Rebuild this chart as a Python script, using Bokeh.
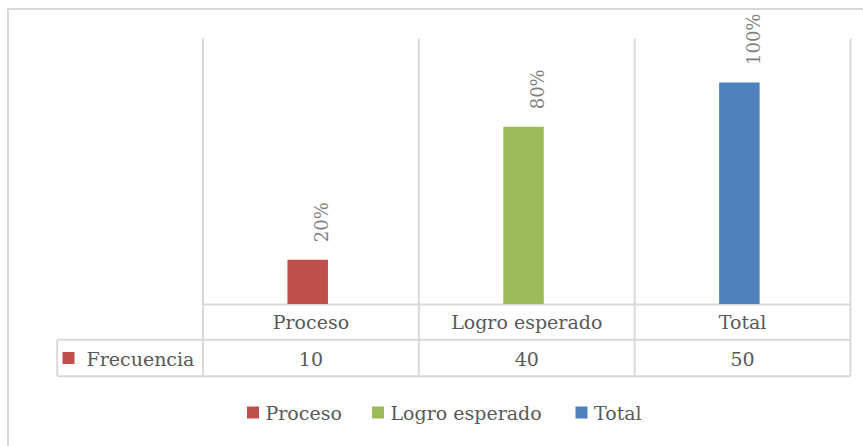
from bokeh.plotting import figure
from bokeh.models import Range1d, ColumnDataSource
from bokeh.core.properties import value
from bokeh.embed import file_html
from bokeh.resources import INLINE

# ---- data ----
categories = ["Proceso", "Logro esperado", "Total"]
frecuencia = [10, 40, 50]
percent_labels = ["20%", "80%", "100%"]
colors = ["#C0504D", "#9BBB59", "#4F81BD"]
series_name = "Frecuencia"
y_max = 60

# ---- layout (canvas pixels, y downward) ----
W, H = 863, 446
plot_left, plot_right = 202.5, 850.0
plot_top, base_y = 37.7, 303.5
row1_bottom, table_bottom = 339.3, 375.7
table_left = 56.7
border_x, border_y = 7.5, 8.5
grid_color = "#d9d9d9"
text_color = "#595959"
label_color = "#7f7f7f"
FONT = value("DejaVu Serif")
FS = "19px"

n = len(categories)
unit_x = (plot_right - plot_left) / n
unit_y = (base_y - plot_top) / y_max

p = figure(width=W, height=H,
           x_range=Range1d(-plot_left / unit_x, (W - plot_left) / unit_x),
           y_range=Range1d(-(H - base_y) / unit_y, base_y / unit_y),
           x_axis_location=None, y_axis_location=None,
           output_backend="svg", toolbar_location=None, min_border=0)
p.extra_x_ranges = {"px": Range1d(0, W)}
p.extra_y_ranges = {"px": Range1d(H, 0)}
p.grid.visible = False
p.outline_line_color = None
p.background_fill_color = "white"
p.border_fill_color = "white"

PX = dict(x_range_name="px", y_range_name="px")

# outer chart border (top and left)
p.segment(x0=[border_x - 1, border_x], y0=[border_y, border_y - 1], x1=[W, border_x], y1=[border_y, H],
          line_color=grid_color, line_width=2, **PX)

# vertical grid / table column lines
xs_bound = [plot_left + i * unit_x for i in range(n + 1)]
p.segment(x0=xs_bound, y0=[plot_top] * (n + 1), x1=xs_bound, y1=[table_bottom] * (n + 1),
          line_color=grid_color, line_width=2, **PX)
# horizontal table lines
p.segment(x0=[plot_left, table_left, table_left], y0=[base_y + 0.5, row1_bottom, table_bottom],
          x1=[plot_right] * 3, y1=[base_y + 0.5, row1_bottom, table_bottom],
          line_color=grid_color, line_width=2, **PX)
p.segment(x0=[table_left], y0=[row1_bottom], x1=[table_left], y1=[table_bottom],
          line_color=grid_color, line_width=2, **PX)

# bars
shift = -3.2 / unit_x
src = ColumnDataSource(dict(
    x=[i + 0.5 + shift for i in range(n)],
    top=frecuencia,
    color=colors,
    lab=percent_labels,
    cat=categories,
    val=[str(v) for v in frecuencia],
    cx=[i + 0.5 for i in range(n)],
))
p.vbar(x="x", top="top", bottom=0, width=40.5 / unit_x, fill_color="color",
       line_color=None, source=src)

# rotated data labels
p.text(x="x", y="top", text="lab", source=src, angle=1.5708,
       x_offset=14, y_offset=-17.5, text_align="left", text_baseline="middle",
       text_font=FONT, text_font_size="18px", text_color=label_color)

# table: category row and value row
row1_mid = (base_y + row1_bottom) / 2
row2_mid = (row1_bottom + table_bottom) / 2
p.text(x="cx", y=row1_mid + 0.5, text="cat", source=src,
       y_range_name="px", text_align="center", text_baseline="middle",
       text_font=FONT, text_font_size=FS, text_color=text_color)
p.text(x="cx", y=row2_mid + 0.5, text="val", source=src,
       y_range_name="px", text_align="center", text_baseline="middle",
       text_font=FONT, text_font_size=FS, text_color=text_color)

# series key in table
p.rect(x=[68], y=[row2_mid], width=12, height=12, fill_color=colors[0],
       line_color=None, **PX)
p.text(x=[86], y=[row2_mid + 0.5], text=[series_name], text_align="left",
       text_baseline="middle", text_font=FONT, text_font_size=FS,
       text_color=text_color, **PX)

# legend
leg_y = 412
leg_sq_x = [252.5, 377.5, 581.0]
p.rect(x=leg_sq_x, y=[leg_y] * n, width=12, height=12, fill_color=colors,
       line_color=None, **PX)
p.text(x=[xx + 12.5 for xx in leg_sq_x], y=[leg_y + 0.5] * n, text=categories,
       text_align="left", text_baseline="middle", text_font=FONT,
       text_font_size=FS, text_color=text_color, **PX)

open("out.html", "w").write(file_html(p, INLINE))
